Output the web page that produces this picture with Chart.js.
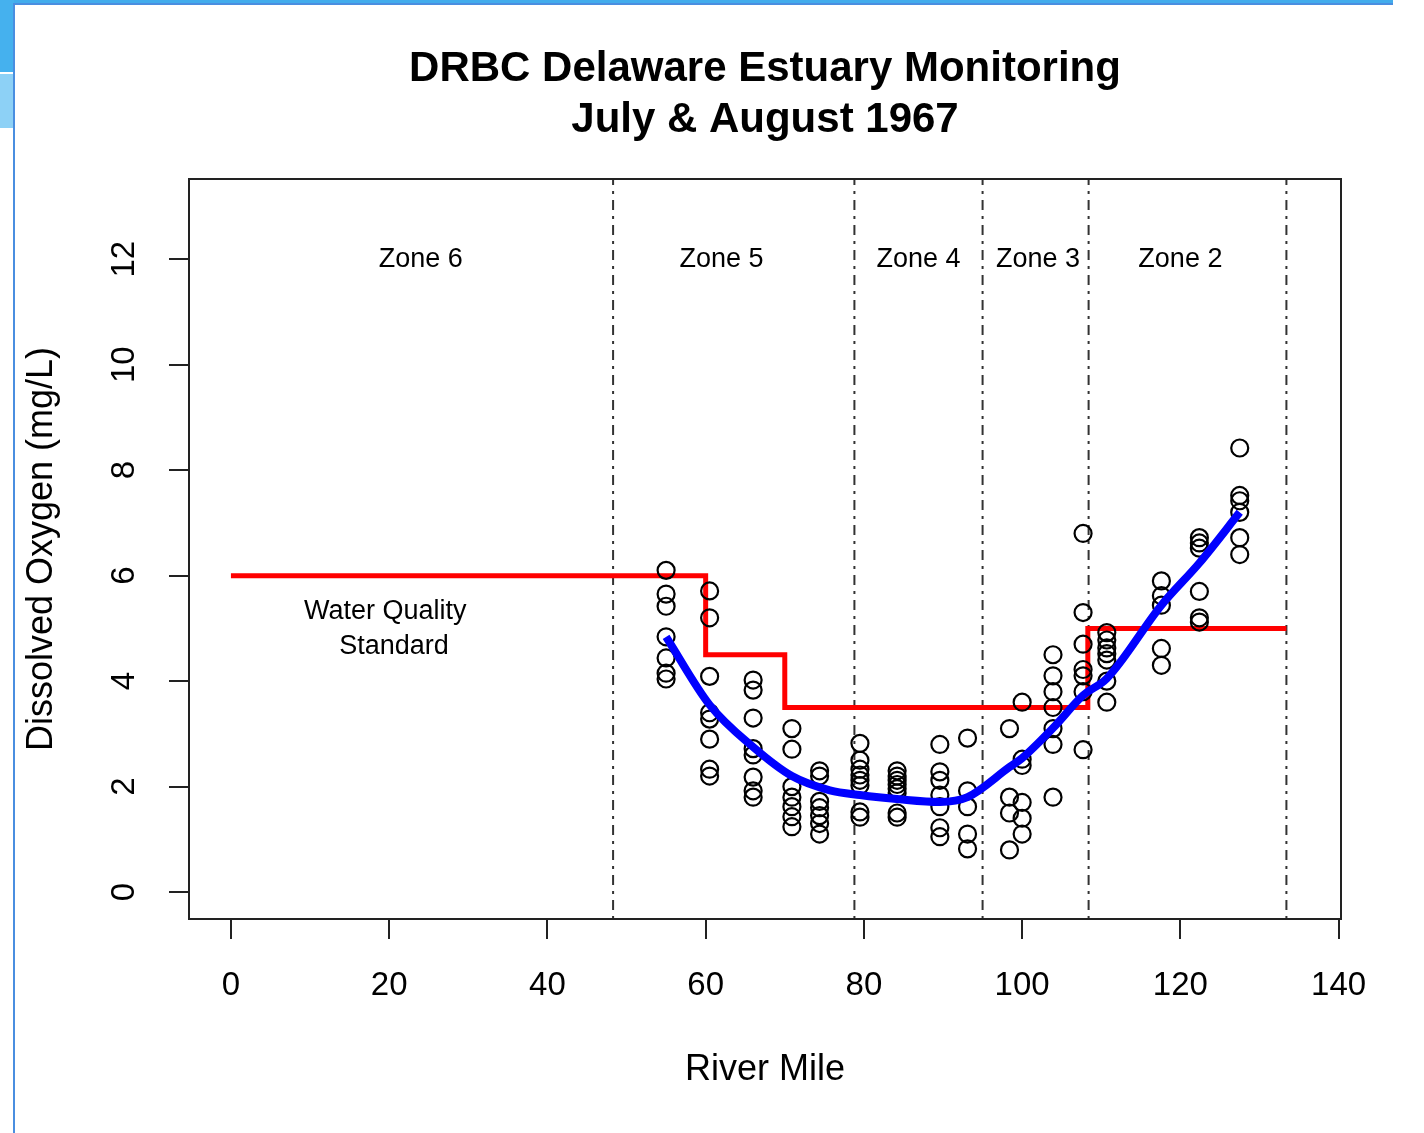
<!DOCTYPE html>
<html>
<head>
<meta charset="utf-8">
<title>DRBC Delaware Estuary Monitoring</title>
<script src="https://cdn.jsdelivr.net/npm/chart.js@4.4.1/dist/chart.umd.min.js"></script>
<style>
  html, body { margin: 0; padding: 0; background: #fff; }
  body { width: 1424px; height: 1133px; position: relative; overflow: hidden; }
  .deco { position: absolute; }
  #chart { position: absolute; left: 0; top: 0; }
</style>
</head>
<body>
<div class="deco" style="left:0;top:0;width:1393px;height:4px;background:#42acec;"></div>
<div class="deco" style="left:0;top:0;width:14px;height:72px;background:#45b1ee;"></div>
<div class="deco" style="left:0;top:74px;width:14px;height:54px;background:#8dd1f6;"></div>
<div class="deco" style="left:13px;top:3px;width:2px;height:1130px;background:#4a8ee0;"></div>
<div class="deco" style="left:13px;top:3px;width:1380px;height:2px;background:#4a8ee0;"></div>
<canvas id="chart" width="1424" height="1133"></canvas>
<script>
// Axis ranges (data units)
const X_MIN = -5.3, X_MAX = 140.3;
const Y_MIN = -0.51, Y_MAX = 13.52;
const xTicks = [0, 20, 40, 60, 80, 100, 120, 140];
const yTicks = [0, 2, 4, 6, 8, 10, 12];

// Sampling stations (river mile) and dissolved oxygen readings at each
const stationMiles = [55.0, 60.5, 66.0, 70.9, 74.4, 79.5, 84.2, 89.6, 93.1, 98.4, 100.0, 103.9, 107.7, 110.7, 117.6, 122.4, 127.5];
const stationDO = [
    [6.1, 5.65, 5.42, 4.84, 4.44, 4.15, 4.04],
    [5.71, 5.2, 4.09, 3.4, 3.28, 2.9, 2.33, 2.2],
    [4.02, 3.83, 3.3, 2.72, 2.6, 2.18, 1.92, 1.8],
    [3.1, 2.71, 2.0, 1.8, 1.62, 1.43, 1.24],
    [2.3, 2.2, 1.72, 1.6, 1.45, 1.3, 1.1],
    [2.82, 2.5, 2.33, 2.22, 2.12, 2.02, 1.52, 1.42],
    [2.3, 2.2, 2.12, 2.04, 1.96, 1.88, 1.5, 1.42],
    [2.8, 2.28, 2.12, 1.84, 1.62, 1.22, 1.05],
    [2.92, 1.92, 1.62, 1.1, 0.82],
    [3.1, 1.8, 1.5, 0.8],
    [3.6, 2.52, 2.4, 1.7, 1.4, 1.1],
    [4.5, 4.1, 3.8, 3.5, 3.1, 2.8, 1.8],
    [6.8, 5.3, 4.7, 4.22, 4.1, 3.8, 2.7],
    [4.92, 4.78, 4.63, 4.52, 4.4, 4.0, 3.6],
    [5.9, 5.62, 5.44, 4.62, 4.3],
    [6.72, 6.62, 6.52, 5.7, 5.2, 5.12],
    [8.42, 7.52, 7.42, 7.2, 6.72, 6.4]
];

// Smoothed fit (blue curve)
const fitMiles = [55, 60.5, 66, 70.9, 75.7, 79.5, 84.5, 89.6, 93.1, 98.4, 100, 103.9, 107.7, 110.7, 117.6, 122.4, 127.5];
const fitDO = [4.84, 3.55, 2.75, 2.2, 1.93, 1.84, 1.76, 1.71, 1.8, 2.37, 2.54, 3.11, 3.73, 4.05, 5.44, 6.24, 7.2];

// Water quality standard (red step line)
const stdMiles = [0, 60, 70, 108.3, 133.4];
const stdDO = [6, 4.5, 3.5, 5, 5];

// Zone boundaries and labels
const zoneBounds = [48.3, 78.8, 95.0, 108.4, 133.4];
const zoneNames = ['Zone 6', 'Zone 5', 'Zone 4', 'Zone 3', 'Zone 2'];
const zoneLabelMiles = [24.0, 62.0, 86.9, 102.0, 120.0];
const zoneLabelDO = 12;

const titleLines = ['DRBC Delaware Estuary Monitoring', 'July & August 1967'];
const standardLabel = [
    { text: 'Water Quality', x: 19.5, y: 5.31 },
    { text: 'Standard', x: 20.6, y: 4.66 }
];

const FONT = '"Liberation Sans", Arial, Helvetica, sans-serif';

const obsPoints = [];
stationMiles.forEach((m, i) => {
    stationDO[i].forEach(v => obsPoints.push({ x: m, y: v }));
});

const zoneDatasets = zoneBounds.map(z => ({
    type: 'line',
    data: [{ x: z, y: Y_MIN }, { x: z, y: Y_MAX }],
    borderColor: '#333',
    borderWidth: 2,
    borderDash: [3, 6, 10, 6],
    pointRadius: 0,
    fill: false,
    order: 4
}));

// Texts, box and rotated y labels
const decorPlugin = {
    id: 'decor',
    afterDraw(chart) {
        const ctx = chart.ctx;
        const area = chart.chartArea;
        const xs = chart.scales.x;
        const ys = chart.scales.y;
        ctx.save();

        // plot box
        ctx.strokeStyle = '#222';
        ctx.lineWidth = 2;
        ctx.strokeRect(area.left, area.top, area.right - area.left, area.bottom - area.top);

        ctx.fillStyle = '#000';
        ctx.textAlign = 'center';
        ctx.textBaseline = 'middle';

        // y tick labels, rotated like R
        ctx.font = '33px ' + FONT;
        yTicks.forEach(v => {
            ctx.save();
            ctx.translate(125, ys.getPixelForValue(v));
            ctx.rotate(-Math.PI / 2);
            ctx.fillText(String(v), 0, 0);
            ctx.restore();
        });

        // zone labels
        ctx.font = '27px ' + FONT;
        zoneNames.forEach((name, i) => {
            ctx.fillText(name, xs.getPixelForValue(zoneLabelMiles[i]), ys.getPixelForValue(zoneLabelDO));
        });

        // standard label
        standardLabel.forEach(l => {
            ctx.fillText(l.text, xs.getPixelForValue(l.x), ys.getPixelForValue(l.y));
        });

        // title
        const cx = (area.left + area.right) / 2;
        ctx.font = 'bold 42px ' + FONT;
        ctx.fillText(titleLines[0], cx, 69);
        ctx.fillText(titleLines[1], cx, 120);

        ctx.restore();
    }
};

const ctx = document.getElementById('chart').getContext('2d');
new Chart(ctx, {
    type: 'scatter',
    data: {
        datasets: [
            {
                type: 'line',
                label: 'Fit',
                data: fitMiles.map((m, i) => ({ x: m, y: fitDO[i] })),
                borderColor: '#0000ff',
                borderWidth: 8,
                pointRadius: 0,
                tension: 0.4,
                cubicInterpolationMode: 'monotone',
                fill: false,
                order: 1
            },
            {
                label: 'Observed DO',
                data: obsPoints,
                pointStyle: 'circle',
                pointRadius: 8.5,
                pointBorderWidth: 2.2,
                borderColor: '#000',
                backgroundColor: 'rgba(0,0,0,0)',
                showLine: false,
                order: 2
            },
            {
                type: 'line',
                label: 'Water Quality Standard',
                data: stdMiles.map((m, i) => ({ x: m, y: stdDO[i] })),
                borderColor: '#ff0000',
                borderWidth: 5,
                stepped: 'before',
                pointRadius: 0,
                fill: false,
                order: 3
            },
            ...zoneDatasets
        ]
    },
    options: {
        responsive: false,
        animation: false,
        devicePixelRatio: 1,
        layout: { padding: { left: 0, top: 179, right: 83, bottom: 0 } },
        plugins: {
            legend: { display: false },
            tooltip: { enabled: false },
            title: { display: false }
        },
        scales: {
            x: {
                type: 'linear',
                min: X_MIN,
                max: X_MAX,
                afterBuildTicks: s => { s.ticks = xTicks.map(v => ({ value: v })); },
                afterFit: s => { s.height = 214; },
                border: { display: false },
                grid: {
                    drawOnChartArea: false,
                    drawTicks: true,
                    tickLength: 20,
                    color: '#222',
                    lineWidth: 2
                },
                ticks: {
                    color: '#000',
                    font: { family: FONT, size: 33 },
                    padding: 27,
                    maxRotation: 0,
                    autoSkip: false
                },
                title: {
                    display: true,
                    text: 'River Mile',
                    color: '#000',
                    font: { family: FONT, size: 36 },
                    padding: { top: 0, bottom: 41 }
                }
            },
            y: {
                type: 'linear',
                min: Y_MIN,
                max: Y_MAX,
                afterBuildTicks: s => { s.ticks = yTicks.map(v => ({ value: v })); },
                afterFit: s => { s.width = 189; },
                border: { display: false },
                grid: {
                    drawOnChartArea: false,
                    drawTicks: true,
                    tickLength: 20,
                    color: '#222',
                    lineWidth: 2
                },
                ticks: { display: false },
                title: {
                    display: true,
                    text: 'Dissolved Oxygen (mg/L)',
                    color: '#000',
                    font: { family: FONT, size: 36 },
                    padding: { top: 20, bottom: 0 }
                }
            }
        }
    },
    plugins: [decorPlugin]
});
</script>
</body>
</html>
